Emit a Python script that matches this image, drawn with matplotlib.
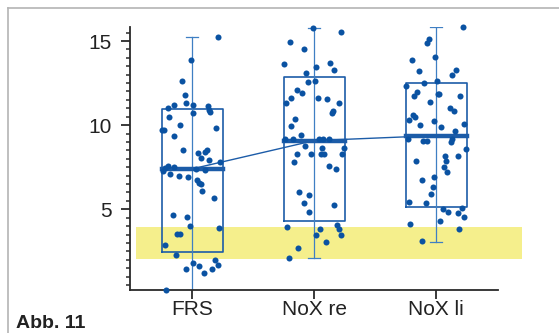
import matplotlib
matplotlib.use('Agg')
import matplotlib.pyplot as plt
from matplotlib.lines import Line2D

# ---------------- data ----------------
categories = ['FRS', 'NoX re', 'NoX li']
q1 = [2.47, 4.30, 5.16]
medians = [7.40, 9.08, 9.38]
q3 = [10.98, 12.85, 12.52]
whis_lo = [0.22, 2.08, 3.07]
whis_hi = [15.25, 15.80, 15.84]

frs_values = [15.25, 13.89, 12.61, 11.80, 11.30, 11.22, 11.00, 11.22, 11.15, 10.92,
              10.79, 10.73, 10.51, 9.99, 9.73, 9.73, 9.83, 9.33, 8.50, 8.34,
              8.40, 8.50, 8.02, 7.94, 7.82, 7.60, 7.54, 7.30, 7.45, 7.40,
              7.32, 7.09, 6.99, 6.91, 6.75, 6.59, 6.49, 6.09, 5.66, 4.66,
              4.52, 4.02, 3.87, 3.51, 3.51, 2.87, 2.27, 1.81, 1.63, 1.46,
              1.20, 1.46, 1.96, 1.69, 0.22]
frs_jitter = [0.21, -0.01, -0.08, -0.06, -0.05, -0.15, -0.20, 0.01, 0.13, 0.14,
              0.15, 0.01, -0.19, -0.10, -0.25, -0.23, 0.20, -0.15, -0.07, 0.05,
              0.11, 0.12, 0.07, 0.14, 0.23, -0.20, -0.15, -0.24, -0.22, 0.03,
              0.11, -0.18, -0.11, -0.03, 0.04, 0.055, 0.07, 0.085, 0.18, -0.16,
              -0.04, -0.02, 0.22, -0.12, -0.095, -0.22, -0.13, 0.01, 0.055, -0.05,
              0.10, 0.16, 0.19, 0.21, -0.21]

noxre_values = [15.80, 15.52, 14.94, 14.52, 13.63, 13.47, 13.71, 13.29, 13.11, 12.54,
                12.61, 12.06, 11.90, 11.62, 11.30, 11.62, 11.54, 11.30, 10.73, 10.82,
                10.39, 9.97, 9.39, 9.15, 9.17, 9.17, 9.17, 9.15, 8.76, 8.66,
                8.62, 8.28, 8.28, 8.28, 8.28, 8.30, 7.82, 7.58, 7.42, 6.01,
                5.85, 5.36, 5.27, 4.86, 3.93, 3.84, 4.06, 3.81, 3.45, 3.45,
                3.05, 2.69, 2.11]
noxre_jitter = [-0.006, 0.221, -0.197, -0.084, -0.243, 0.016, 0.131, 0.166, -0.063, -0.052,
                0.006, -0.139, -0.096, -0.189, -0.232, 0.030, 0.109, 0.202, 0.145, 0.153,
                -0.156, -0.189, -0.107, -0.238, -0.175, 0.044, 0.076, 0.12, -0.074, 0.066,
                0.248, -0.142, -0.025, 0.057, 0.082, 0.232, -0.164, 0.12, 0.178, -0.12,
                -0.039, -0.084, 0.166, -0.039, -0.221, 0.049, 0.186, 0.207, 0.221, 0.016,
                0.098, -0.129, -0.207]

noxli_values = [15.86, 15.14, 14.88, 14.04, 13.87, 13.21, 13.29, 12.97, 12.31, 12.48,
                12.64, 11.98, 11.72, 11.88, 11.88, 11.72, 11.38, 11.04, 10.87, 10.63,
                10.47, 10.33, 10.25, 9.99, 9.89, 10.07, 9.65, 9.15, 9.08, 9.08,
                9.02, 9.18, 8.58, 8.18, 8.18, 7.84, 7.54, 7.24, 7.88, 6.93,
                6.75, 6.33, 5.91, 5.43, 5.36, 5.00, 4.86, 4.78, 5.10, 4.52,
                4.28, 4.12, 3.84, 3.11]
noxli_jitter = [0.224, -0.057, -0.071, -0.006, -0.197, -0.139, 0.166, 0.131, -0.243, -0.096,
                0.008, -0.153, -0.178, 0.027, 0.015, 0.199, -0.049, 0.112, 0.145, -0.186,
                -0.172, -0.219, -0.014, -0.131, 0.043, 0.232, 0.156, -0.232, -0.107, -0.071,
                0.123, 0.134, 0.246, 0.074, 0.178, 0.080, 0.063, 0.088, -0.164, -0.014,
                -0.117, -0.027, -0.041, -0.219, -0.084, 0.055, 0.096, 0.178, 0.213, 0.232,
                0.030, -0.211, 0.191, -0.117]

band_lo, band_hi = 2.05, 3.95
y_ticks = [5, 10, 15]
fig_label = 'Abb. 11'

# ---------------- style ----------------
DOT = '#0a52a2'
BOX = '#1c5ca8'
WHISK = '#3f7fc3'
AXC = '#2a2a2a'
YELLOW = '#f5ef8c'

plt.rcParams['font.family'] = ['Liberation Sans', 'DejaVu Sans']

fig = plt.figure(figsize=(5.59, 3.33), dpi=100)
ax = fig.add_axes([0.2331, 0.130, 0.6578, 0.7898])

positions = list(range(len(categories)))

ax.axhspan(band_lo, band_hi, xmin=0.015, xmax=1.065, color=YELLOW, lw=0,
           clip_on=False, zorder=0)

stats = []
for i in range(len(categories)):
    stats.append(dict(med=medians[i], q1=q1[i], q3=q3[i],
                      whislo=whis_lo[i], whishi=whis_hi[i], fliers=[]))

ax.bxp(stats, positions=positions, widths=0.5, capwidths=0.1, showfliers=False,
       boxprops=dict(color=BOX, linewidth=1.2),
       whiskerprops=dict(color=WHISK, linewidth=0.9),
       capprops=dict(color=WHISK, linewidth=0.9),
       medianprops=dict(color=BOX, linewidth=3.2, solid_capstyle='projecting'),
       manage_ticks=False, zorder=2)
# whisker line continues through the box
ax.vlines(positions, q1, q3, color=WHISK, linewidth=0.9, zorder=2)

ax.plot(positions, medians, color=BOX, linewidth=1.0, zorder=3)

for i, (vals, jit) in enumerate([(frs_values, frs_jitter),
                                  (noxre_values, noxre_jitter),
                                  (noxli_values, noxli_jitter)]):
    xs = [positions[i] + j for j in jit]
    ax.scatter(xs, vals, s=19, color=DOT, linewidths=0, zorder=4, clip_on=False)

ax.set_xlim(-0.506, 2.508)
ax.set_ylim(0.22, 15.85)
ax.set_xticks(positions)
ax.set_xticklabels(categories)
ax.set_yticks(y_ticks)
ax.set_yticks([v * 0.5 for v in range(1, 32)], minor=True)

for s in ['top', 'right']:
    ax.spines[s].set_visible(False)
for s in ['left', 'bottom']:
    ax.spines[s].set_color(AXC)
    ax.spines[s].set_linewidth(1.3)

ax.tick_params(axis='x', which='major', length=6.5, width=1.3, color=AXC,
               labelsize=15, labelcolor='#222222', pad=1)
ax.tick_params(axis='x', which='minor', bottom=False)
ax.tick_params(axis='y', which='major', length=6.3, width=1.3, color=AXC,
               labelsize=15, labelcolor='#222222', pad=7)
ax.tick_params(axis='y', which='minor', length=3.1, width=1.1, color=AXC)

# figure frame (top and left edges visible)
fig.add_artist(Line2D([8.3 / 559, 1.0], [1 - 8.3 / 333, 1 - 8.3 / 333],
                      transform=fig.transFigure, color='#b4b4b4', linewidth=1.2))
fig.add_artist(Line2D([8.3 / 559, 8.3 / 559], [0.0, 1 - 8.3 / 333],
                      transform=fig.transFigure, color='#b4b4b4', linewidth=1.2))

fig.text(16.5 / 559, 0.5 / 333, fig_label, fontsize=14, fontweight='bold',
         color='#222222', ha='left', va='bottom')

fig.savefig('out.png', dpi=100)
